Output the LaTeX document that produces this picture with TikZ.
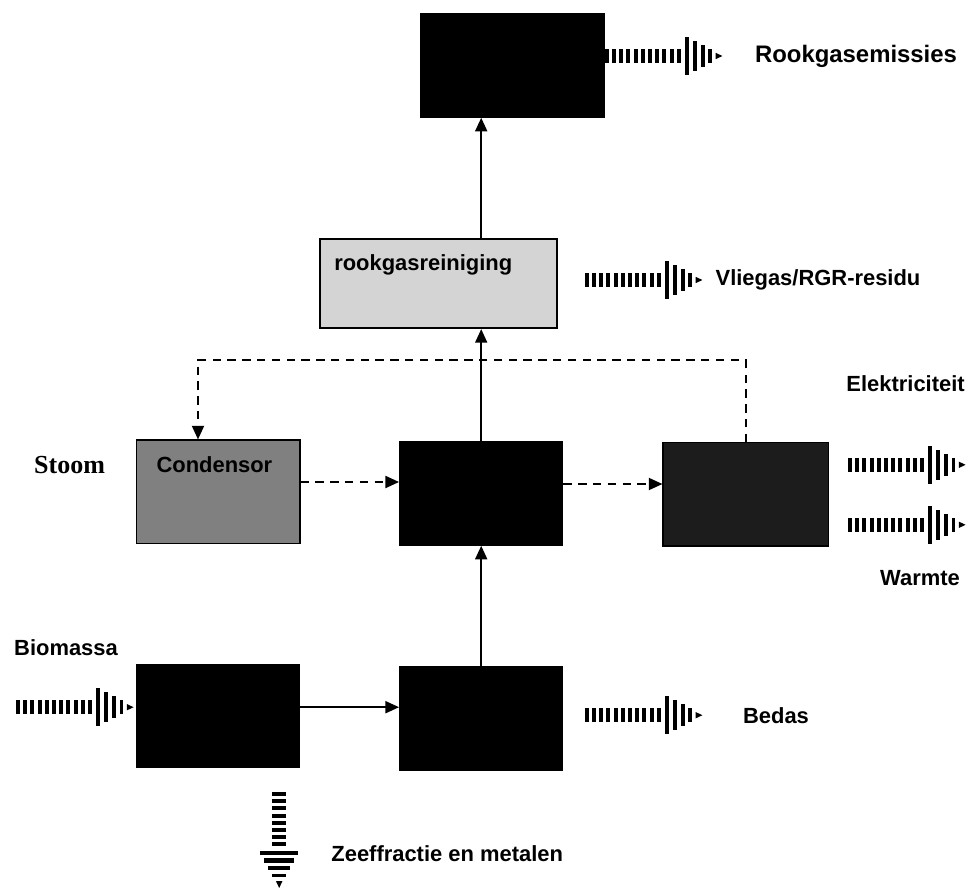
\documentclass[tikz,border=0pt]{standalone}
\usepackage{fontspec}
\setsansfont{Liberation Sans}
\newfontfamily\stoomfont{Liberation Serif}
\usetikzlibrary{arrows.meta}
\definecolor{figG}{RGB}{212,212,212}
\definecolor{figC}{RGB}{128,128,128}
\definecolor{figT}{RGB}{28,28,28}

\tikzset{
  pics/flow/.style={code={
    \foreach \i in {1,...,#1} \fill ({(\i-1)*0.18},-0.18) rectangle ++(0.1,0.36);
    \begin{scope}[xshift={#1*0.18cm+0.03cm}]
      \fill (0,-0.48) rectangle ++(0.1,0.96);
      \fill (0.19,-0.38) rectangle ++(0.11,0.76);
      \fill (0.39,-0.28) rectangle ++(0.1,0.56);
      \fill (0.58,-0.17) rectangle ++(0.08,0.34);
      \fill (0.76,-0.08) -- (0.93,0) -- (0.76,0.08) -- cycle;
    \end{scope}
  }}
}

\begin{document}
\begin{tikzpicture}[>={Triangle[length=3.4mm,width=3mm]},
  box/.style={draw,line width=0.8pt,minimum width=4.08cm,minimum height=2.58cm,inner sep=0pt},
  lbl/.style={font=\fontsize{15.6}{18}\selectfont\sffamily\bfseries,inner sep=0pt},
  flowline/.style={line width=1.3pt},
  dashline/.style={line width=1.3pt,dash pattern=on 2.1mm off 1.6mm}]
\useasboundingbox (0,0) rectangle (24.4,-22.175);
% process boxes
\node[box,fill=black,minimum width=4.58cm] (stack) at (12.81,-1.64) {};
\node[box,fill=figG,minimum width=5.93cm,minimum height=2.23cm,line width=1.3pt] (rgr) at (10.96,-7.09) {};
\node[box,fill=figC] (cond) at (5.46,-12.29) {};
\node[box,fill=black] (ketel) at (12.03,-12.34) {};
\node[box,fill=figT,minimum width=4.13cm] (turb) at (18.64,-12.36) {};
\node[box,fill=black] (voor) at (5.45,-17.9) {};
\node[box,fill=black] (oven) at (12.03,-17.96) {};
\node[lbl] (rgrtxt) at (10.58,-6.63) {rookgasreiniging};
\node[lbl] (condtxt) at (5.36,-11.62) {Condensor};
% main flow
\draw[flowline,->] ([yshift=0.22cm]voor.east) -- ([yshift=0.22cm]voor.east -| oven.west);
\draw[flowline,->] (oven.north) -- (ketel.south);
\draw[flowline,->] (ketel.north) -- (ketel.north |- rgr.south);
\draw[flowline,->] (ketel.north |- rgr.north) -- (ketel.north |- stack.south);
% steam cycle
\coordinate (loop) at (4.95,-9.0);
\draw[dashline,->] ([yshift=0.24cm]cond.east) -- ([yshift=0.24cm]cond.east -| ketel.west);
\draw[dashline,->] ([yshift=0.24cm]ketel.east) -- ([yshift=0.24cm]ketel.east -| turb.west);
\draw[dashline,->] (turb.north) |- (loop) -- (loop |- cond.north);
% in- and outgoing streams
\pic at (15.12,-1.4) {flow=11};
\pic at (14.62,-7.0) {flow=11};
\pic at (21.2,-11.62) {flow=11};
\pic at (21.2,-13.12) {flow=11};
\pic at (0.4,-17.68) {flow=11};
\pic at (14.62,-17.88) {flow=11};
\pic[rotate=-90] at (6.98,-19.8) {flow=8};
% labels
\node[lbl,font=\fontsize{17}{20}\selectfont\sffamily\bfseries] (emis) at (21.4,-1.4) {Rookgasemissies};
\node[lbl] (vlieg) at (20.45,-7.0) {Vliegas/RGR-residu};
\node[lbl] (elek) at (22.64,-9.58) {Elektriciteit};
\node[font=\fontsize{18.5}{20}\selectfont\stoomfont\bfseries,inner sep=0pt] (stoom) at (1.74,-11.62) {Stoom};
\node[lbl] (warm) at (23.0,-14.45) {Warmte};
\node[lbl] (bio) at (1.65,-16.18) {Biomassa};
\node[lbl] (bedas) at (19.4,-17.88) {Bedas};
\node[lbl] (zeef) at (11.18,-21.33) {Zeeffractie en metalen};
\end{tikzpicture}
\end{document}
